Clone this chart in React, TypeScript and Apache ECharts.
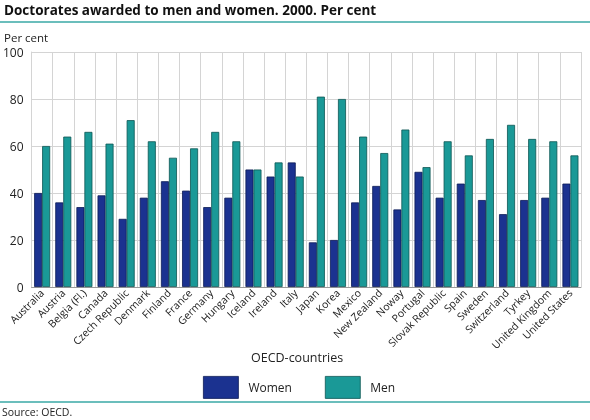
import { useEffect, useRef } from 'react'
import * as echarts from 'echarts'

const countries = [
  'Australia', 'Austria', 'Belgia (Fl.)', 'Canada', 'Czech Republic', 'Denmark', 'Finland',
  'France', 'Germany', 'Hungary', 'Iceland', 'Ireland', 'Italy', 'Japan', 'Korea', 'Mexico',
  'New Zealand', 'Noway', 'Portugal', 'Slovak Republic', 'Spain', 'Sweden', 'Switzerland',
  'Tyrkey', 'United Kingdom', 'United States'
]
const women = [40, 36, 34, 39, 29, 38, 45, 41, 34, 38, 50, 47, 53, 19, 20, 36, 43, 33, 49, 38, 44, 37, 31, 37, 38, 44]
const men = [60, 64, 66, 61, 71, 62, 55, 59, 66, 62, 50, 53, 47, 81, 80, 64, 57, 67, 51, 62, 56, 63, 69, 63, 62, 56]

const FONT = '"Open Sans", "DejaVu Sans", sans-serif'
const WOMEN_COLOR = '#1b3290'
const MEN_COLOR = '#1a9997'

export default function App() {
  const ref = useRef<HTMLDivElement>(null)

  useEffect(() => {
    if (!ref.current) return
    const chart = echarts.init(ref.current, null, { renderer: 'svg' })

    const option: echarts.EChartsOption = {
      animation: false,
      textStyle: { fontFamily: FONT },
      grid: { left: 30, right: 9, top: 52, bottom: 133, containLabel: false },
      legend: {
        top: 371,
        left: 198,
        icon: 'rect',
        itemWidth: 35,
        itemHeight: 22,
        itemGap: 33,
        itemStyle: { borderWidth: 0.8 },
        textStyle: { fontSize: 12, color: '#222', fontFamily: FONT, padding: [0, 0, 0, 5] },
        data: ['Women', 'Men']
      },
      xAxis: {
        type: 'category',
        data: countries,
        axisLine: { show: true, lineStyle: { color: '#9a9a9a' } },
        axisTick: { show: false },
        splitLine: { show: true, interval: 0, lineStyle: { color: '#d4d4d4' } },
        axisLabel: { rotate: 45, interval: 0, fontSize: 10.5, color: '#222', margin: 4 }
      },
      yAxis: {
        type: 'value',
        min: 0,
        max: 100,
        interval: 20,
        axisLine: { show: true, lineStyle: { color: '#d4d4d4' } },
        axisTick: { show: false },
        splitLine: { lineStyle: { color: '#d4d4d4' } },
        axisLabel: { fontSize: 12, color: '#222', margin: 8 }
      },
      series: [
        {
          name: 'Women',
          type: 'bar',
          data: women,
          barWidth: 8,
          barGap: '0%',
          itemStyle: { color: WOMEN_COLOR, borderColor: '#0b1a55', borderWidth: 0.8 }
        },
        {
          name: 'Men',
          type: 'bar',
          data: men,
          barWidth: 8,
          itemStyle: { color: MEN_COLOR, borderColor: '#0d5553', borderWidth: 0.8 }
        }
      ],
      graphic: [
        {
          type: 'text',
          left: 4,
          top: 3,
          style: { text: 'Doctorates awarded to men and women. 2000. Per cent', fontSize: 13.5, fontWeight: 'bold', fill: '#111', fontFamily: FONT }
        },
        {
          type: 'line',
          shape: { x1: 0, y1: 22, x2: 590, y2: 22 },
          style: { stroke: '#3aa8a6', lineWidth: 1.5 }
        },
        {
          type: 'text',
          left: 4,
          top: 31,
          style: { text: 'Per cent', fontSize: 11.5, fill: '#222', fontFamily: FONT }
        },
        {
          type: 'text',
          left: 251,
          top: 351,
          style: { text: 'OECD-countries', fontSize: 12.5, fill: '#222', fontFamily: FONT }
        },
        {
          type: 'line',
          shape: { x1: 0, y1: 402, x2: 590, y2: 402 },
          style: { stroke: '#3aa8a6', lineWidth: 1.5 }
        },
        {
          type: 'text',
          left: 2,
          top: 406,
          style: { text: 'Source: OECD.', fontSize: 10.5, fill: '#222', fontFamily: FONT }
        }
      ]
    }

    chart.setOption(option)
    return () => chart.dispose()
  }, [])

  return <div ref={ref} style={{ width: 590, height: 420, position: 'fixed', left: 0, top: 0 }} />
}
